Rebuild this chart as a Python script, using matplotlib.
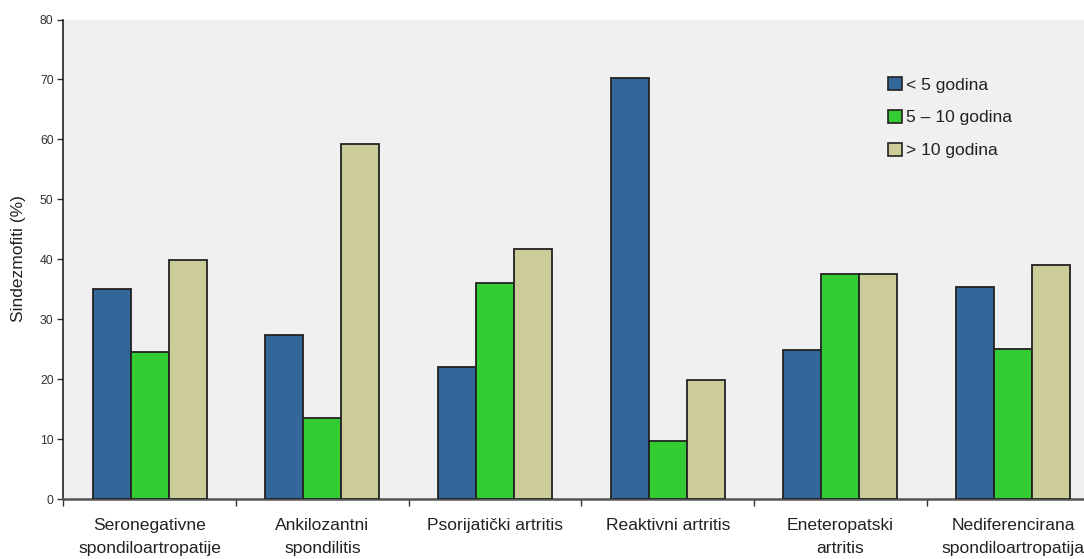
import matplotlib
matplotlib.use("Agg")
import matplotlib.pyplot as plt
import numpy as np
from matplotlib.patches import Patch

categories = ["Seronegativne\nspondiloartropatije", "Ankilozantni\nspondilitis",
              "Psorijatički artritis", "Reaktivni artritis",
              "Eneteropatski\nartritis", "Nediferencirana\nspondiloartropatija"]
series_names = ["< 5 godina", "5 – 10 godina", "> 10 godina"]
lt5 = [35.0, 27.3, 22.1, 70.3, 24.8, 35.3]
mid = [24.5, 13.5, 36.1, 9.6, 37.6, 25.0]
gt10 = [39.8, 59.2, 41.7, 19.8, 37.6, 39.1]
yticks = [0, 10, 20, 30, 40, 50, 60, 70, 80]
colors = ["#336699", "#33cc33", "#cccc99"]

plt.rcParams['font.family'] = ['Liberation Sans', 'DejaVu Sans']

W, H = 1084, 559
fig = plt.figure(figsize=(W/100, H/100), dpi=100)
left_px, right_px, top_px, bot_px = 63.3, 1099.5, 19.5, 499.0
ax = fig.add_axes([left_px/W, 1 - bot_px/H, (right_px-left_px)/W, (bot_px-top_px)/H])
ax.set_facecolor("#f0f0f0")

x = np.arange(len(categories))
bw = 0.22
for i, (vals, c, name) in enumerate(zip([lt5, mid, gt10], colors, series_names)):
    ax.bar(x + (i-1)*bw, vals, bw, color=c, edgecolor="#222222", linewidth=1.3, label=name, zorder=3)

ax.set_xlim(-0.5, len(categories)-0.5)
ax.set_ylim(0, 80)
ax.set_yticks(yticks)
ax.tick_params(axis='y', direction='out', length=4, width=1, pad=3, labelsize=8.8, colors='#333333', labelcolor='#333333')
ax.set_xticks(x)
ax.set_xticklabels(categories, fontsize=12.6, color='#222222')
for t in ax.get_xticklabels():
    t.set_linespacing(1.62)
ax.set_xticks(np.arange(-0.5, len(categories), 1), minor=True)
ax.tick_params(axis='x', which='major', length=0, pad=14)
ax.tick_params(axis='x', which='minor', length=5, width=1, color='#333333', direction='out')

for s in ['top', 'right']:
    ax.spines[s].set_visible(False)
ax.spines['left'].set_color('#222222')
ax.spines['left'].set_linewidth(1.2)
ax.spines['bottom'].set_color('#555555')
ax.spines['bottom'].set_linewidth(1.8)

fig.text(19/W, 1 - 259/H, "Sindezmofiti (%)", rotation=90, va='center', ha='center',
         fontsize=12.5, color='#222222')

handles = [Patch(facecolor=c, edgecolor='#222222', linewidth=1.2) for c in colors]
leg = ax.legend(handles, series_names, loc='upper left', bbox_to_anchor=(888/W, 1 - 77/H),
                bbox_transform=fig.transFigure, frameon=False, fontsize=12.6,
                handlelength=0.78, handleheight=0.78, handletextpad=0.25,
                labelspacing=0.98, borderpad=0, borderaxespad=0)
for t in leg.get_texts():
    t.set_color('#222222')

fig.savefig("out.png", dpi=100)
